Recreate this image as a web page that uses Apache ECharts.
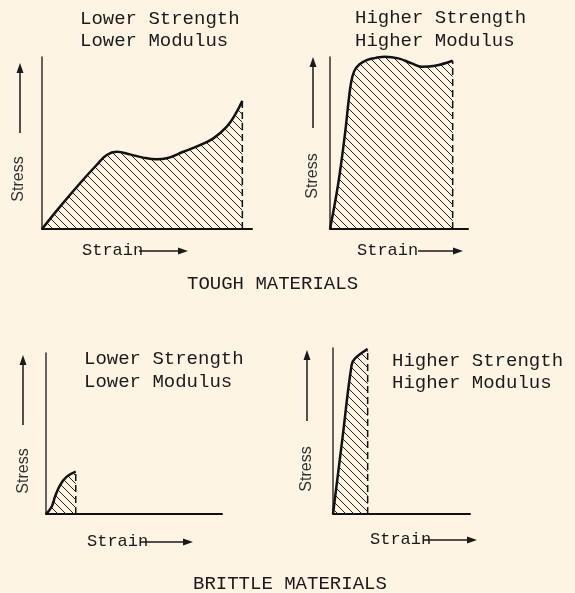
<!DOCTYPE html>
<html>
<head>
<meta charset="utf-8">
<script src="https://cdn.jsdelivr.net/npm/echarts@6/dist/echarts.min.js"></script>
<style>
  html, body { margin: 0; padding: 0; background: #fef4e4; }
  #chart { width: 575px; height: 593px; }
</style>
</head>
<body>
<div id="chart"></div>
<script>
// stress-strain curves, both axes in % of the drawn axis length
// tough material, lower strength / lower modulus
const toughLowStrain = [0, 8.6, 18.1, 26.0, 30.8, 35.6, 41.9, 48.2, 54.6, 59.4, 67.3, 75.2, 81.6, 88.0, 91.9, 95.4];
const toughLowStress = [0, 13.0, 26.6, 37.2, 43.0, 44.9, 43.4, 41.5, 40.5, 41.1, 44.9, 48.8, 52.7, 59.5, 66.3, 74.6];
// tough material, higher strength / higher modulus
const toughHighStrain = [0, 6.0, 10.9, 13.3, 15.2, 17.4, 21.0, 27.0, 33.0, 39.9, 49.5, 59.2, 66.4, 76.1, 88.9];
const toughHighStress = [0, 26.6, 55.6, 73.1, 84.7, 91.5, 95.5, 98.3, 99.5, 100.2, 99.2, 96.3, 94.4, 94.9, 97.8];
// brittle material, lower strength / lower modulus
const brittleLowStrain = [0, 3.2, 5.1, 8.0, 11.8, 16.9];
const brittleLowStress = [0, 4.5, 10.7, 18.0, 23.2, 26.3];
// brittle material, higher strength / higher modulus
const brittleHighStrain = [0, 6.8, 13.6, 16.1, 25.3];
const brittleHighStress = [0, 44.9, 89.8, 93.8, 99.4];

const panelTitles = [
  ["Lower Strength", "Lower Modulus"],
  ["Higher Strength", "Higher Modulus"],
  ["Lower Strength", "Lower Modulus"],
  ["Higher Strength", "Higher Modulus"]
];
const groupTitles = ["TOUGH MATERIALS", "BRITTLE MATERIALS"];

const ink = "#1a1a1a";
const mono = '"Liberation Mono", "Courier New", monospace';

// diagonal hatch tile
function hatch() {
  const c = document.createElement("canvas");
  c.width = 8;
  c.height = 8;
  const ctx = c.getContext("2d");
  ctx.strokeStyle = "#222";
  ctx.lineWidth = 1;
  ctx.beginPath();
  ctx.moveTo(-1, -1); ctx.lineTo(9, 9);
  ctx.moveTo(-1, 7); ctx.lineTo(1, 9);
  ctx.moveTo(7, -1); ctx.lineTo(9, 1);
  ctx.stroke();
  return { image: c, repeat: "repeat" };
}
const pattern = hatch();

const curves = [
  [toughLowStrain, toughLowStress],
  [toughHighStrain, toughHighStress],
  [brittleLowStrain, brittleLowStress],
  [brittleHighStrain, brittleHighStress]
];

const grids = [
  { left: 42, top: 57, width: 210, height: 172 },
  { left: 330, top: 57, width: 138, height: 172 },
  { left: 46, top: 353, width: 176, height: 161 },
  { left: 333, top: 348, width: 137, height: 166 }
];

const xAxes = grids.map((g, i) => ({
  type: "value", gridIndex: i, min: 0, max: 100,
  axisLine: { lineStyle: { color: "#111", width: 2 } },
  axisTick: { show: false }, axisLabel: { show: false }, splitLine: { show: false }
}));
const yAxes = grids.map((g, i) => ({
  type: "value", gridIndex: i, min: 0, max: 100,
  axisLine: { lineStyle: { color: "#333", width: 1.5 } },
  axisTick: { show: false }, axisLabel: { show: false }, splitLine: { show: false }
}));

const series = [];
curves.forEach(([xs, ys], i) => {
  const pts = xs.map((x, k) => [x, ys[k]]);
  series.push({
    type: "line", xAxisIndex: i, yAxisIndex: i, data: pts,
    smooth: 0.4, showSymbol: false, clip: false,
    lineStyle: { color: "#111", width: 2.5 },
    areaStyle: { color: pattern, opacity: 1 },
    silent: true, z: 3
  });
  const last = pts[pts.length - 1];
  series.push({
    type: "line", xAxisIndex: i, yAxisIndex: i,
    data: [[last[0], 0], [last[0], last[1]]],
    showSymbol: false, clip: false,
    lineStyle: { color: "#111", width: 1.5, type: [7, 4] },
    silent: true, z: 2
  });
});

// annotation helpers
const graphic = [];
function text(str, x, y, size, extra) {
  graphic.push(Object.assign({
    type: "text", x: x, y: y,
    style: { text: str, font: size + "px " + mono, fill: ink, textVerticalAlign: "middle" }
  }, extra || {}));
}
function vArrow(x, y0, y1) {
  graphic.push({ type: "line", shape: { x1: x, y1: y0, x2: x, y2: y1 + 8 }, style: { stroke: ink, lineWidth: 1.5 } });
  graphic.push({ type: "polygon", shape: { points: [[x, y1], [x - 3.5, y1 + 10], [x + 3.5, y1 + 10]] }, style: { fill: ink } });
}
function hArrow(x0, x1, y) {
  graphic.push({ type: "line", shape: { x1: x0, y1: y, x2: x1 - 8, y2: y }, style: { stroke: ink, lineWidth: 1.5 } });
  graphic.push({ type: "polygon", shape: { points: [[x1, y], [x1 - 10, y - 3.5], [x1 - 10, y + 3.5]] }, style: { fill: ink } });
}
function stress(x, y) {
  graphic.push({
    type: "text", x: x, y: y, rotation: Math.PI / 2,
    style: { text: "Stress", font: '16px "Liberation Sans", Arial, sans-serif', fill: "#333", textAlign: "center", textVerticalAlign: "middle" }
  });
}

// titles
const titlePos = [[80, 19, 41], [355, 18, 41], [84, 359, 382], [392, 361, 383]];
titlePos.forEach(([x, y1, y2], i) => {
  text(panelTitles[i][0], x, y1, 19);
  text(panelTitles[i][1], x, y2, 19);
});
text(groupTitles[0], 187, 284, 19);
text(groupTitles[1], 193, 584, 19);

// stress arrows and labels
vArrow(20, 133, 63);  stress(19, 179);
vArrow(313, 128, 57); stress(313, 176);
vArrow(23, 425, 355); stress(24, 471);
vArrow(307, 421, 350); stress(307, 469);

// strain labels and arrows
text("Strain", 82, 250, 17);  hArrow(139, 188, 251);
text("Strain", 357, 250, 17); hArrow(418, 463, 251);
text("Strain", 87, 541, 17);  hArrow(140, 193, 542);
text("Strain", 370, 539, 17); hArrow(423, 477, 540);

const chart = echarts.init(document.getElementById("chart"));
chart.setOption({
  backgroundColor: "#fef4e4",
  animation: false,
  grid: grids,
  xAxis: xAxes,
  yAxis: yAxes,
  series: series,
  graphic: graphic
});
</script>
</body>
</html>
